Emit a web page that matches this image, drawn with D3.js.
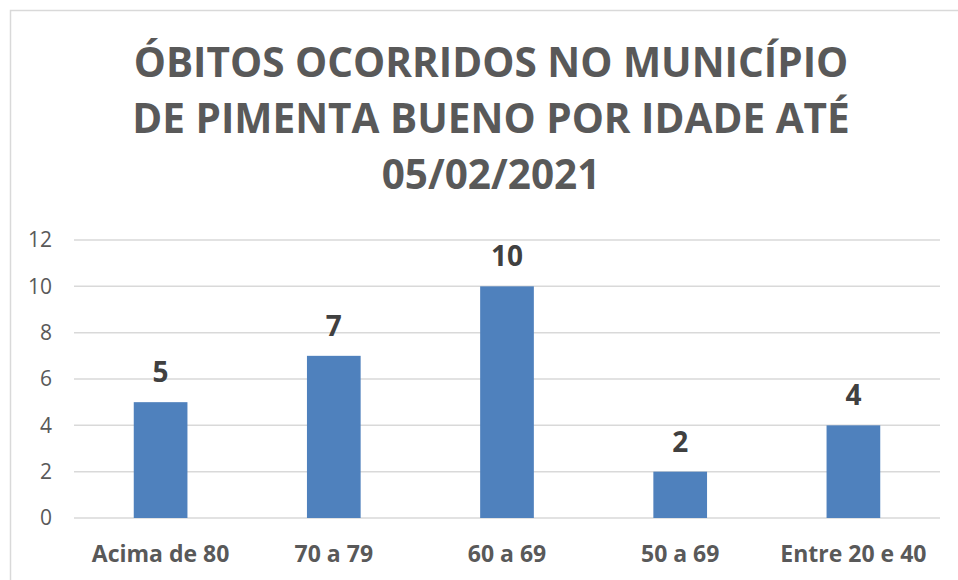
<!DOCTYPE html>
<html>
<head>
<meta charset="utf-8">
<script src="https://cdn.jsdelivr.net/npm/d3@7"></script>
<style>
  body { margin: 0; background: #fff; }
  svg text { font-family: "Open Sans", "Liberation Sans", sans-serif; }
</style>
</head>
<body>
<div id="chart"></div>
<script>
// Data
const categories = ["Acima de 80", "70 a 79", "60 a 69", "50 a 69", "Entre 20 e 40"];
const values = [5, 7, 10, 2, 4];
const yTicks = [0, 2, 4, 6, 8, 10, 12];
const titleLines = ["ÓBITOS OCORRIDOS NO MUNICÍPIO", "DE PIMENTA BUENO POR IDADE ATÉ", "05/02/2021"];

const W = 958, H = 580;
const margin = { top: 240, right: 18, bottom: 62, left: 74 };
const w = W - margin.left - margin.right;
const h = H - margin.top - margin.bottom;

const svg = d3.select("#chart").append("svg")
  .attr("width", W).attr("height", H);

// chart frame
svg.append("rect")
  .attr("x", 10.5).attr("y", 10.5)
  .attr("width", W + 10).attr("height", H + 10)
  .attr("fill", "#fff").attr("stroke", "#d9d9d9").attr("stroke-width", 1.5);

// Title
svg.append("g").selectAll("text").data(titleLines).join("text")
  .attr("x", 491)
  .attr("y", (d, i) => 77 + i * 56)
  .attr("text-anchor", "middle")
  .attr("font-size", 40.5)
  .attr("font-weight", "bold")
  .attr("fill", "#595959")
  .text(d => d);

const g = svg.append("g").attr("transform", `translate(${margin.left},${margin.top})`);

const x = d3.scaleBand().domain(categories).range([0, w])
  .paddingInner(0.69).paddingOuter(0.345);
const y = d3.scaleLinear().domain([0, 12]).range([h, 0]);

// gridlines
g.append("g").selectAll("line").data(yTicks).join("line")
  .attr("x1", 0).attr("x2", w)
  .attr("y1", d => y(d)).attr("y2", d => y(d))
  .attr("stroke", "#d9d9d9").attr("stroke-width", 1.5);

// Y axis
g.append("g")
  .call(d3.axisLeft(y).tickValues(yTicks).tickSize(0).tickPadding(22))
  .call(a => a.select(".domain").remove())
  .selectAll("text")
  .attr("font-size", 21).attr("fill", "#595959")
  .style("font-family", "'Open Sans', sans-serif");

// Bars
g.selectAll("rect.bar").data(values).join("rect")
  .attr("class", "bar")
  .attr("x", (d, i) => x(categories[i]))
  .attr("width", x.bandwidth())
  .attr("y", d => y(d))
  .attr("height", d => y(0) - y(d))
  .attr("fill", "#4f81bd");

// Value labels
g.selectAll("text.val").data(values).join("text")
  .attr("class", "val")
  .attr("x", (d, i) => x(categories[i]) + x.bandwidth() / 2)
  .attr("y", d => y(d) - 20)
  .attr("text-anchor", "middle")
  .attr("font-size", 28).attr("font-weight", "bold")
  .attr("fill", "#404040")
  .text(d => d);

// X axis
g.append("g").attr("transform", `translate(0,${h})`)
  .call(d3.axisBottom(x).tickSize(0).tickPadding(0))
  .call(a => a.select(".domain").remove())
  .selectAll("text")
  .attr("dy", null).attr("y", 44)
  .attr("font-size", 23).attr("font-weight", "bold").attr("fill", "#595959")
  .style("font-family", "'Open Sans', sans-serif");
</script>
</body>
</html>
